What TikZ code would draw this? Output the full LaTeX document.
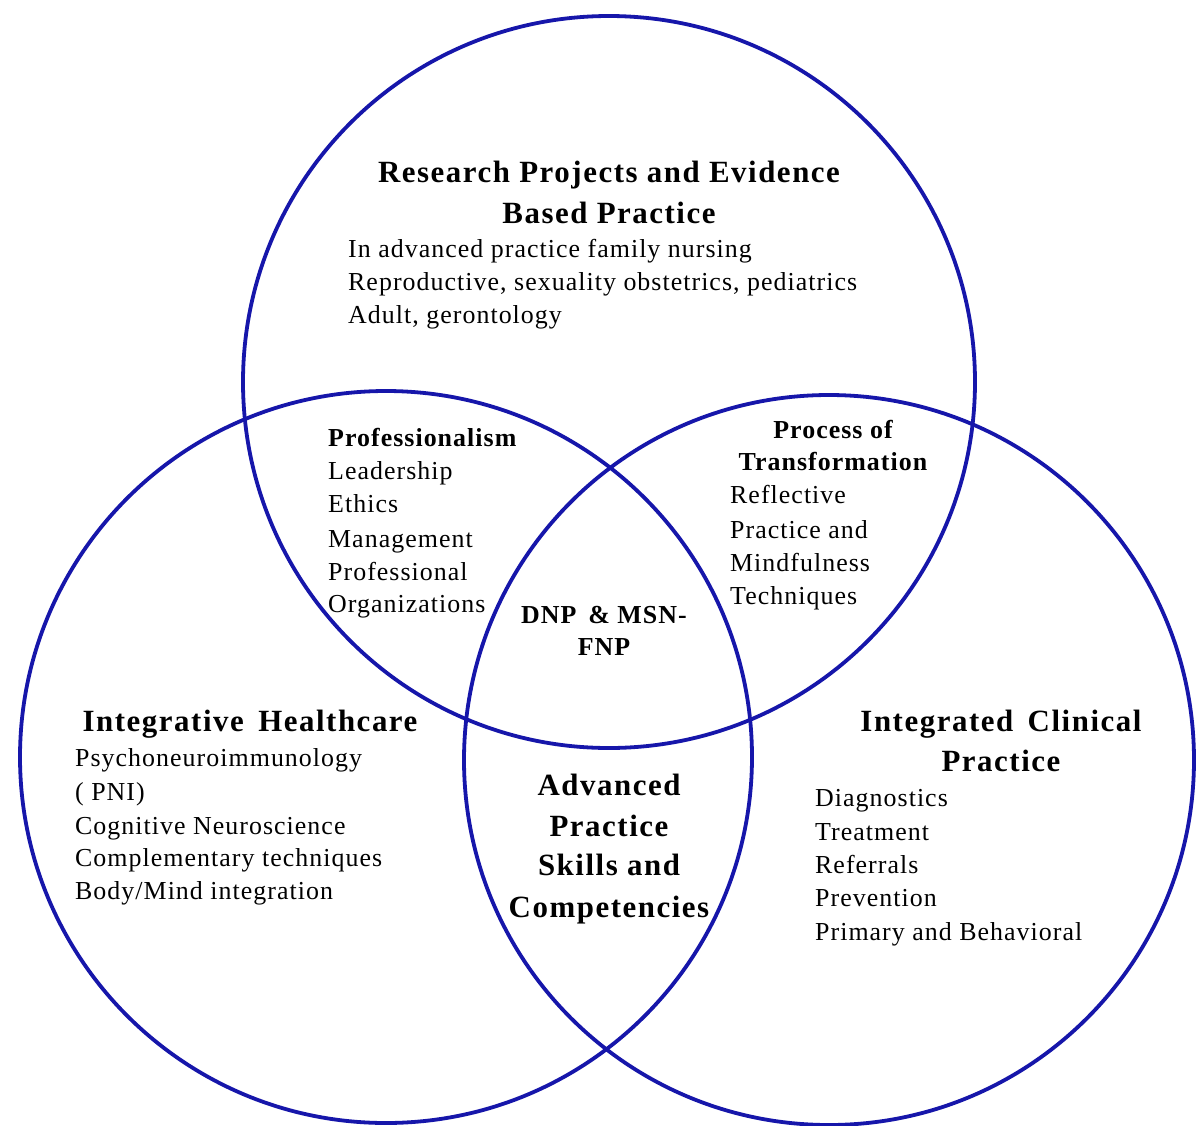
\documentclass[tikz,border=0pt]{standalone}
\usepackage{fontspec}
\setmainfont{Liberation Serif}
\newfontfamily\bodyfont[LetterSpace=4]{Liberation Serif}
\newfontfamily\headfont[LetterSpace=5]{Liberation Serif}
\definecolor{ringblue}{RGB}{22,22,170}
\begin{document}
\begin{tikzpicture}[x=1bp,y=-1bp,
  ring/.style={draw=ringblue,line width=3.8bp},
  body/.style={font=\bodyfont\fontsize{26}{30}\selectfont,inner sep=0pt,anchor=base west},
  subhead/.style={font=\bodyfont\bfseries\fontsize{26}{30}\selectfont,inner sep=0pt,anchor=base},
  subheadw/.style={font=\bodyfont\bfseries\fontsize{26}{30}\selectfont,inner sep=0pt,anchor=base west},
  head/.style={font=\headfont\bfseries\fontsize{31}{34}\selectfont,inner sep=0pt,anchor=base}]
\useasboundingbox[fill=white] (0,0) rectangle (1197,1126);
% circles
\draw[ring] (609,382) circle[radius=366];
\draw[ring] (386,757) circle[radius=366];
\draw[ring] (829,760) circle[radius=365];
% top circle
\node[head] (t1) at (609,182) {Research Projects and Evidence};
\node[head] (t2) at (609,223) {Based Practice};
\node[body] (t3) at (348,257) {In advanced practice family nursing};
\node[body] (t4) at (348,290) {Reproductive, sexuality obstetrics, pediatrics};
\node[body] (t5) at (348,323) {Adult, gerontology};
% top-left lens
\node[subheadw] (p1) at (328,446) {Professionalism};
\node[body] (p2) at (328,479) {Leadership};
\node[body] (p3) at (328,512) {Ethics};
\node[body] (p4) at (328,547) {Management};
\node[body] (p5) at (328,580) {Professional};
\node[body] (p6) at (328,612) {Organizations};
% top-right lens
\node[subhead] (r1) at (833,438) {Process of};
\node[subhead] (r2) at (833,470) {Transformation};
\node[body] (r3) at (730,503) {Reflective};
\node[body] (r4) at (730,538) {Practice and};
\node[body] (r5) at (730,571) {Mindfulness};
\node[body] (r6) at (730,604) {Techniques};
% centre
\node[subhead] (c1) at (604,623) {DNP \,\& MSN-};
\node[subhead] (c2) at (604,655) {FNP};
% left circle
\node[head] (l1) at (250,731) {Integrative\, Healthcare};
\node[body] (l2) at (75,766) {Psychoneuroimmunology};
\node[body] (l3) at (75,800) {( PNI)};
\node[body] (l4) at (75,834) {Cognitive Neuroscience};
\node[body] (l5) at (75,866) {Complementary techniques};
\node[body] (l6) at (75,899) {Body/Mind integration};
% right circle
\node[head] (g1) at (1001,731) {Integrated\, Clinical};
\node[head] (g2) at (1001,771) {Practice};
\node[body] (g3) at (815,806) {Diagnostics};
\node[body] (g4) at (815,840) {Treatment};
\node[body] (g5) at (815,873) {Referrals};
\node[body] (g6) at (815,906) {Prevention};
\node[body] (g7) at (815,940) {Primary and Behavioral};
% bottom lens
\node[head] (a1) at (609,795) {Advanced};
\node[head] (a2) at (609,836) {Practice};
\node[head] (a3) at (609,875) {Skills and};
\node[head] (a4) at (609,917) {Competencies};
\end{tikzpicture}
\end{document}
